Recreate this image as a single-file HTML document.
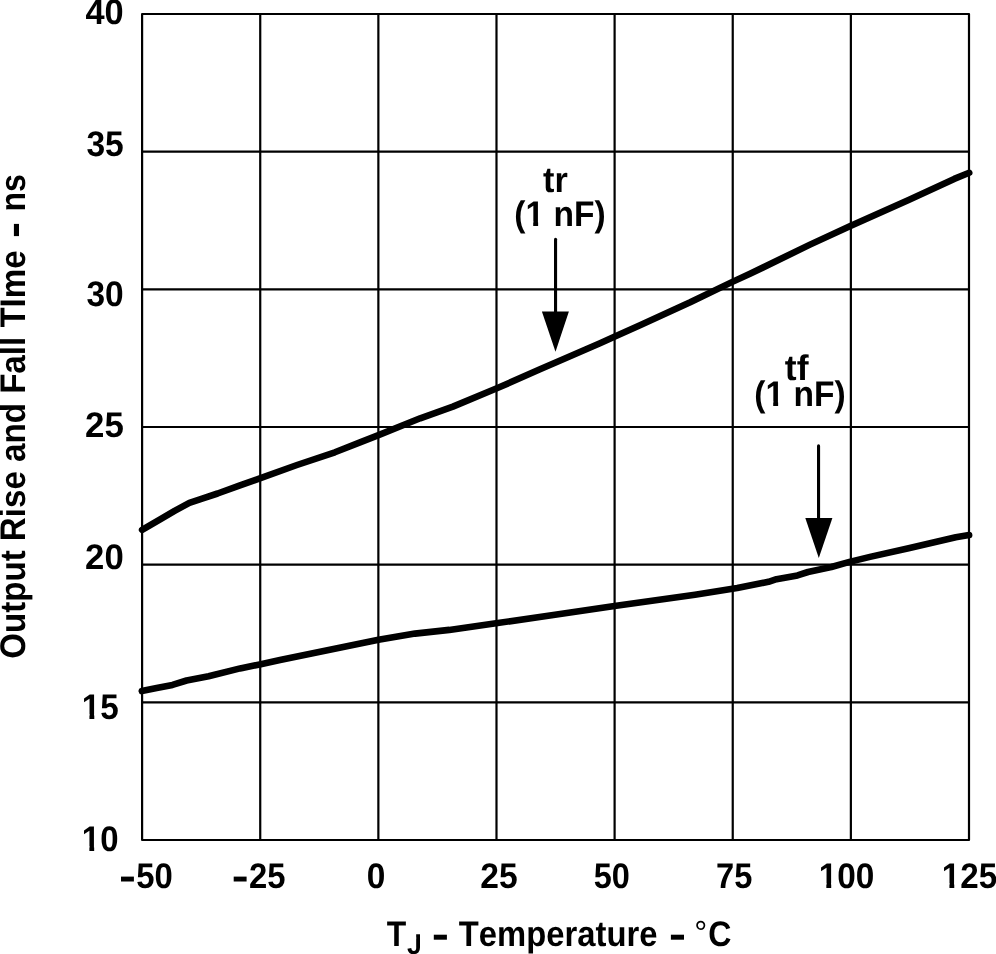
<!DOCTYPE html>
<html><head><meta charset="utf-8"><title>Output Rise and Fall Time vs Temperature</title>
<style>
html,body{margin:0;padding:0;background:#fff;}
body{width:996px;height:954px;overflow:hidden;}
svg{display:block;will-change:transform;}
text{font-family:"Liberation Sans",sans-serif;font-weight:bold;font-size:35.6px;fill:#000;font-kerning:none;text-rendering:geometricPrecision;}
</style></head><body>
<svg width="996" height="954" viewBox="0 0 996 954">
<rect x="0" y="0" width="996" height="954" fill="#fff"/>
<g stroke="#000" stroke-width="2.2" fill="none">
<line x1="260.23" y1="14.00" x2="260.23" y2="840.00"/>
<line x1="378.36" y1="14.00" x2="378.36" y2="840.00"/>
<line x1="496.49" y1="14.00" x2="496.49" y2="840.00"/>
<line x1="614.61" y1="14.00" x2="614.61" y2="840.00"/>
<line x1="732.74" y1="14.00" x2="732.74" y2="840.00"/>
<line x1="850.87" y1="14.00" x2="850.87" y2="840.00"/>
<line x1="142.10" y1="151.67" x2="969.00" y2="151.67"/>
<line x1="142.10" y1="289.33" x2="969.00" y2="289.33"/>
<line x1="142.10" y1="427.00" x2="969.00" y2="427.00"/>
<line x1="142.10" y1="564.67" x2="969.00" y2="564.67"/>
<line x1="142.10" y1="702.33" x2="969.00" y2="702.33"/>
<rect x="142.10" y="14.00" width="826.90" height="826.00" stroke-linejoin="round"/>
</g>
<polyline points="142.1,529.9 161.0,518.8 174.6,510.9 189.4,502.8 202.9,498.3 217.6,493.5 240.0,485.3 260.5,478.1 297.0,465.0 334.9,452.3 360.0,442.4 378.5,435.2 420.2,418.3 452.9,406.6 496.9,388.3 540.0,369.3 561.4,359.9 600.0,343.3 614.9,336.6 640.0,325.2 690.2,302.3 732.4,281.9 750.0,273.8 810.0,244.6 850.9,225.8 908.6,200.0 954.2,178.9 969.2,172.8" fill="none" stroke="#000" stroke-width="6.6" stroke-linecap="round" stroke-linejoin="round"/>
<polyline points="141.8,691.1 156.7,688.0 172.5,684.9 186.6,680.5 208.6,676.2 240.1,668.4 259.7,664.4 280.0,660.0 340.8,647.6 378.5,639.7 415.0,633.6 449.3,629.9 496.0,623.3 555.0,614.8 614.5,606.0 695.0,594.8 737.2,588.1 768.5,581.8 776.5,579.2 797.5,575.4 808.0,572.0 831.4,567.0 849.5,561.9 870.0,556.9 908.6,548.3 955.8,537.3 969.1,535.1" fill="none" stroke="#000" stroke-width="6.6" stroke-linecap="round" stroke-linejoin="round"/>
<line x1="555.55" y1="239.2" x2="555.55" y2="315" stroke="#000" stroke-width="3.1" stroke-linecap="round"/>
<polygon points="541.9,311.4 568.9,311.4 555.5,351.8" fill="#000"/>
<line x1="818.55" y1="445.9" x2="818.55" y2="522" stroke="#000" stroke-width="3.1" stroke-linecap="round"/>
<polygon points="805.3,518 832.4,518 818.8,558" fill="#000"/>
<text transform="translate(85.48 24.00) scale(0.9655 1)">40</text>
<text transform="translate(86.43 156.00) scale(0.9447 1)">35</text>
<text transform="translate(86.43 306.00) scale(0.9405 1)">30</text>
<text transform="translate(85.09 437.00) scale(0.9793 1)">25</text>
<text transform="translate(85.10 569.00) scale(0.9755 1)">20</text>
<text transform="translate(81.80 719.00) scale(0.9350 1)">15</text>
<text transform="translate(81.83 851.00) scale(0.9249 1)">10</text>
<text transform="translate(136.29 888.00) scale(0.9233 1)">50</text>
<text transform="translate(249.06 888.00) scale(0.9231 1)">25</text>
<text transform="translate(366.68 888.00) scale(0.9391 1)">0</text>
<text transform="translate(480.33 888.00) scale(0.9445 1)">25</text>
<text transform="translate(593.80 888.00) scale(0.9125 1)">50</text>
<text transform="translate(716.10 888.00) scale(0.9170 1)">75</text>
<text transform="translate(818.70 888.00) scale(0.9373 1)">100</text>
<text transform="translate(941.81 888.00) scale(0.9330 1)">125</text>
<rect x="121" y="876.6" width="12.9" height="4.9" fill="#000"/>
<rect x="233.7" y="876.6" width="12.9" height="4.9" fill="#000"/>
<text transform="translate(543.08 192.00) scale(0.9622 1)">tr</text>
<text transform="translate(514.33 226.00) scale(0.9438 1)">(1 nF)</text>
<text transform="translate(784.87 380.00) scale(0.9981 1)">tf</text>
<text transform="translate(754.33 406.00) scale(0.9438 1)">(1 nF)</text>
<text transform="translate(386.84 946.00) scale(0.8968 1)">T</text>
<text transform="translate(407.00 954.00) scale(0.9321 1)" style="font-size:28.6px">J</text>
<rect x="433.8" y="934.7" width="13.1" height="5.0" fill="#000"/>
<text transform="translate(458.83 946.00) scale(0.9213 1)">Temperature</text>
<rect x="670.9" y="934.7" width="13.1" height="5.0" fill="#000"/>
<text transform="translate(694.37 944.00) scale(0.9721 1)" style="font-size:33.4px;font-weight:normal">°</text>
<text transform="translate(708.28 946.00) scale(0.9022 1)">C</text>
<text transform="translate(25.40 658.86) rotate(-90) scale(0.9310 1)">Output Rise and Fall TIme</text>
<rect x="13.9" y="223.9" width="5.1" height="12.2" fill="#000"/>
<text transform="translate(25.40 211.61) rotate(-90) scale(0.9009 1)">ns</text>
<rect x="82.62" y="714.17" width="6.81" height="5.83" fill="#fff"/>
<rect x="94.29" y="714.17" width="6.21" height="5.83" fill="#fff"/>
<rect x="82.63" y="846.17" width="6.74" height="5.83" fill="#fff"/>
<rect x="94.17" y="846.17" width="6.14" height="5.83" fill="#fff"/>
<rect x="819.51" y="883.17" width="6.83" height="5.83" fill="#fff"/>
<rect x="831.21" y="883.17" width="6.22" height="5.83" fill="#fff"/>
<rect x="942.62" y="883.17" width="6.80" height="5.83" fill="#fff"/>
<rect x="954.26" y="883.17" width="6.20" height="5.83" fill="#fff"/>
<rect x="526.34" y="221.17" width="6.87" height="5.83" fill="#fff"/>
<rect x="538.12" y="221.17" width="6.27" height="5.83" fill="#fff"/>
<rect x="766.34" y="401.17" width="6.87" height="5.83" fill="#fff"/>
<rect x="778.12" y="401.17" width="6.27" height="5.83" fill="#fff"/>
<rect x="411.68" y="933.39" width="4.49" height="5.16" fill="#fff"/>
</svg></body></html>
